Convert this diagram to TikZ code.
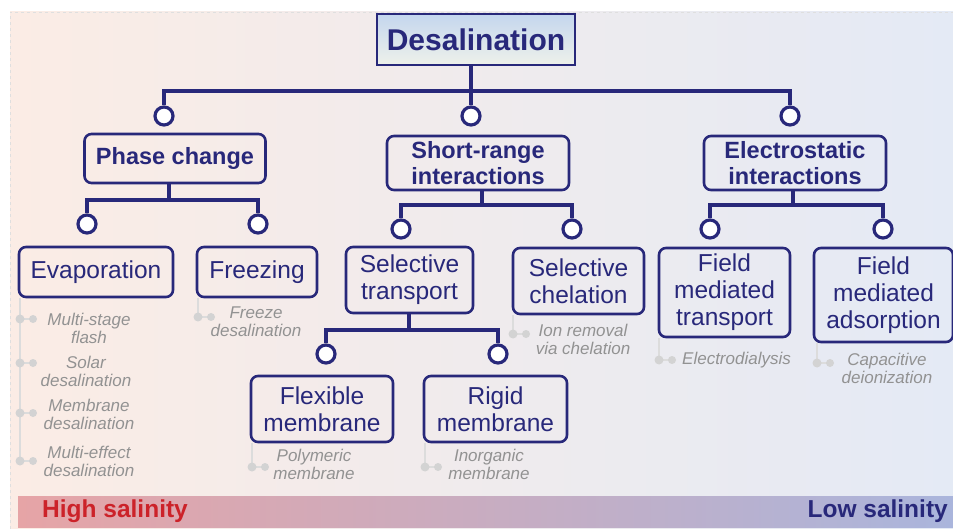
\documentclass[tikz,border=0pt]{standalone}
\usepackage{fontspec}
\setmainfont{Liberation Sans}
\definecolor{navy}{HTML}{28287A}
\definecolor{salred}{HTML}{CC2229}
\definecolor{notegray}{HTML}{929292}
\definecolor{dotgray}{HTML}{D3D3D3}
\definecolor{bgL}{HTML}{FBECE5}
\definecolor{bgR}{HTML}{E4EAF5}
\definecolor{barL}{HTML}{E6A4A6}
\definecolor{barR}{HTML}{AAB5DC}
\definecolor{titleT}{HTML}{C4D6EE}
\definecolor{titleB}{HTML}{EEF1EA}

\begin{document}
\begin{tikzpicture}
  [x=1pt, y=-1pt,
   title/.style={draw=navy, line width=2.8pt, top color=titleT, bottom color=titleB,
     minimum width=198pt, minimum height=51pt, inner sep=0pt, text=navy,
     font=\fontsize{30}{32}\selectfont\bfseries},
   box/.style={draw=navy, line width=2.6pt, rounded corners=7pt, align=center, text=navy,
     inner sep=0pt, font=\fontsize{24.5}{27}\selectfont},
   head/.style={box, font=\fontsize{23.5}{26}\selectfont\bfseries},
   knob/.style={circle, draw=navy, line width=3.2pt, fill=white, minimum size=18pt, inner sep=0pt},
   link/.style={draw=navy, line width=3.4pt},
   note/.style={align=center, text=notegray, inner sep=0pt,
     font=\fontsize{17}{18}\selectfont\itshape},
   gline/.style={draw=dotgray!80, line width=1.8pt},
   gdot/.style={fill=dotgray},
   scalelbl/.style={inner sep=0pt, font=\fontsize{24.5}{26}\selectfont\bfseries}]
  \useasboundingbox (0,0) rectangle (953,529);

  % backdrop and salinity bar
  \shade[left color=bgL, right color=bgR] (10,12) rectangle (953,529);
  \draw[dashed, gray!25, line width=0.8pt] (10,529) -- (10,12) -- (953,12);
  \shade[left color=barL, right color=barR] (18,496) rectangle (953,527);
  \node[scalelbl, anchor=west, text=salred] (high) at (42,511) {High salinity};
  \node[scalelbl, anchor=east, text=navy] (low) at (948,511) {Low salinity};

  % boxes
  \node[title] (desal) at (476,39.5) {Desalination};
  \node[head, minimum width=181pt, minimum height=49pt] (phase) at (175,158.5) {Phase change};
  \node[head, minimum width=182pt, minimum height=54pt] (short) at (478,163) {Short-range\\interactions};
  \node[head, minimum width=182pt, minimum height=54pt] (elec) at (795,163) {Electrostatic\\interactions};
  \node[box, minimum width=154pt, minimum height=50pt] (evap) at (96,272) {Evaporation};
  \node[box, minimum width=120pt, minimum height=50pt] (frz) at (257,272) {Freezing};
  \node[box, minimum width=127pt, minimum height=66pt] (seltr) at (409.5,280) {Selective\\transport};
  \node[box, minimum width=131pt, minimum height=66pt] (selch) at (578.5,281) {Selective\\chelation};
  \node[box, minimum width=131pt, minimum height=89pt] (fmt) at (724.5,292.5) {Field\\mediated\\transport};
  \node[box, minimum width=139pt, minimum height=94pt] (fma) at (883.5,295) {Field\\mediated\\adsorption};
  \node[box, minimum width=142pt, minimum height=66pt] (flex) at (322,409) {Flexible\\membrane};
  \node[box, minimum width=143pt, minimum height=66pt] (rigid) at (495.5,409) {Rigid\\membrane};

  % knobs
  \node[knob] (k1) at (164,116) {};
  \node[knob] (k2) at (471,116) {};
  \node[knob] (k3) at (790,116) {};
  \node[knob] (k4) at (87,224) {};
  \node[knob] (k5) at (258,224) {};
  \node[knob] (k6) at (401,229) {};
  \node[knob] (k7) at (572,229) {};
  \node[knob] (k8) at (710,229) {};
  \node[knob] (k9) at (883,229) {};
  \node[knob] (k10) at (326,354) {};
  \node[knob] (k11) at (498,354) {};

  % tree links
  \coordinate (j0) at (471,91);
  \coordinate (j1) at (169,200);
  \coordinate (j2) at (482,205);
  \coordinate (j3) at (793,205);
  \coordinate (j4) at (409,330);
  \draw[link] (desal.south -| j0) -- (j0) -- (k2.north);
  \draw[link] (k1.north) |- (j0) -| (k3.north);
  \draw[link] (phase.south -| j1) -- (j1);
  \draw[link] (k4.north) |- (j1) -| (k5.north);
  \draw[link] (short.south -| j2) -- (j2);
  \draw[link] (k6.north) |- (j2) -| (k7.north);
  \draw[link] (elec.south -| j3) -- (j3);
  \draw[link] (k8.north) |- (j3) -| (k9.north);
  \draw[link] (seltr.south -| j4) -- (j4);
  \draw[link] (k10.north) |- (j4) -| (k11.north);

  % examples under each method
  \foreach \b/\x/\y in {evap/20/461, frz/198/317, flex/252/467, rigid/425/467,
                        selch/513/334, fmt/659/360, fma/817/363} {
    \coordinate (p) at (\x,\y);
    \draw[gline] (p) -- (p |- \b.south);
  }
  \foreach \x/\y in {20/319, 20/363, 20/413, 20/461, 198/317, 252/467, 425/467,
                     513/334, 659/360, 817/363} {
    \draw[gline] (\x,\y) -- ++(13,0);
    \fill[gdot] (\x,\y) circle (4.5) (\x+13,\y) circle (4);
  }
  \node[note] (n1) at (89,328) {Multi-stage\\flash};
  \node[note] (n2) at (86,371) {Solar\\desalination};
  \node[note] (n3) at (89,414) {Membrane\\desalination};
  \node[note] (n4) at (89,461) {Multi-effect\\desalination};
  \node[note] (n5) at (256,322) {Freeze\\desalination};
  \node[note] (n6) at (314,464) {Polymeric\\membrane};
  \node[note] (n7) at (489,464) {Inorganic\\membrane};
  \node[note] (n8) at (583,339) {Ion removal\\via chelation};
  \node[note, anchor=west] (n9) at (682,360) {Electrodialysis};
  \node[note] (n10) at (887,368) {Capacitive\\deionization};
\end{tikzpicture}
\end{document}
